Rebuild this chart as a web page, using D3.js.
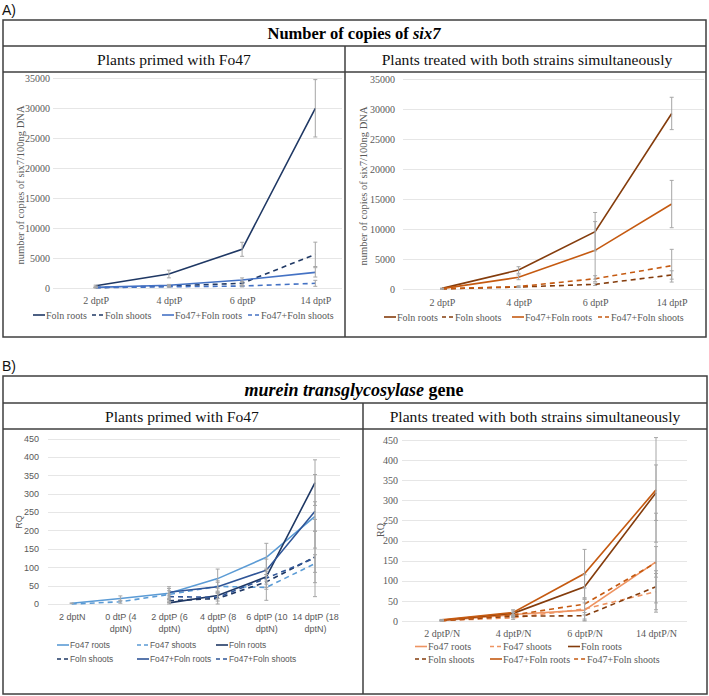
<!DOCTYPE html>
<html>
<head>
<meta charset="utf-8">
<script src="https://cdn.jsdelivr.net/npm/d3@7"></script>
<style>
  body { margin: 0; background: #fff; }
  svg { display: block; }
</style>
</head>
<body>
<div id="chart"></div>
<script>
// ============================================
// DATA
// ============================================

// A) number of copies of six7 (per 100 ng DNA)
const sixCategories = ["2 dptP", "4 dptP", "6 dptP", "14 dptP"];
const sixTicks = [0, 5000, 10000, 15000, 20000, 25000, 30000, 35000];

const primedFolnRoots = [380, 2330, 6450, 29950];
const primedFolnRootsErr = [100, 640, 1170, 4780];
const primedFolnShoots = [80, 330, 780, 5610];
const primedFolnShootsErr = [30, 120, 300, 2030];
const primedMixRoots = [100, 450, 1330, 2610];
const primedMixRootsErr = [40, 150, 350, 780];
const primedMixShoots = [50, 200, 330, 780];
const primedMixShootsErr = [20, 80, 150, 500];

const simulFolnRoots = [100, 3170, 9570, 29300];
const simulFolnRootsErr = [50, 550, 3200, 2700];
const simulFolnShoots = [20, 330, 780, 2340];
const simulFolnShootsErr = [10, 100, 200, 700];
const simulMixRoots = [60, 1950, 6450, 14180];
const simulMixRootsErr = [30, 400, 4800, 3950];
const simulMixShoots = [30, 400, 1720, 3890];
const simulMixShootsErr = [10, 150, 500, 2730];

// B) murein transglycosylase gene (RQ)
const rqTicks = [0, 50, 100, 150, 200, 250, 300, 350, 400, 450];
const mureinPrimedCategories = [
  "2 dptN", "0 dtP (4\ndptN)", "2 dptP (6\ndptN)",
  "4 dptP (8\ndptN)", "6 dptP (10\ndptN)", "14 dptP (18\ndptN)"
];
const mPrimedFo47Roots = [2, 15, 29, 69, 127, 238];
const mPrimedFo47RootsErr = [1, 7, 18, 26, 38, 40];
const mPrimedFo47Shoots = [0, 6, 26, 48, 45, 110];
const mPrimedFo47ShootsErr = [0, 4, 10, 15, 35, 24];
const mPrimedFolnRoots = [null, null, 3, 23, 74, 330];
const mPrimedFolnRootsErr = [0, 0, 3, 8, 20, 62];
const mPrimedFolnShoots = [null, null, 9, 15, 60, 128];
const mPrimedFolnShootsErr = [0, 0, 5, 15, 20, 70];
const mPrimedMixRoots = [null, null, 32, 47, 92, 252];
const mPrimedMixRootsErr = [0, 0, 10, 12, 30, 100];
const mPrimedMixShoots = [null, null, 20, 18, 70, 125];
const mPrimedMixShootsErr = [0, 0, 8, 10, 25, 105];

const mureinSimulCategories = ["2 dptP/N", "4 dptP/N", "6 dptP/N", "14 dptP/N"];
const mSimulFo47Roots = [1, 16, 27, 147];
const mSimulFo47RootsErr = [1, 5, 27, 38];
const mSimulFo47Shoots = [1, 8, 30, 73];
const mSimulFo47ShootsErr = [1, 4, 15, 45];
const mSimulFolnRoots = [2, 19, 85, 319];
const mSimulFolnRootsErr = [1, 6, 30, 69];
const mSimulFolnShoots = [1, 12, 13, 85];
const mSimulFolnShootsErr = [1, 4, 8, 40];
const mSimulMixRoots = [3, 21, 118, 326];
const mSimulMixRootsErr = [1, 7, 60, 130];
const mSimulMixShoots = [1, 15, 42, 145];
const mSimulMixShootsErr = [1, 6, 40, 123];

// ============================================
// STYLE
// ============================================

const SERIF = "'Liberation Serif', 'Times New Roman', serif";
const SANS = "'Liberation Sans', Arial, sans-serif";
const TEXT_GREY = "#595959";
const GRID = "#E6E6E6";
const ERR = "#A6A6A6";
const BORDER = "#3f3f3f";
const DASH = "5,4";

const COLORS = {
  navy: "#1F3864",
  blue: "#4472C4",
  lightBlue: "#5B9BD5",
  midBlue: "#2F5597",
  brown: "#843C0C",
  orange: "#C55A11",
  lightOrange: "#EE9462",
};

// ============================================
// PANELS
// ============================================

const panels = [
  {
    categories: sixCategories, ticks: sixTicks,
    xRange: [95.7, 315.3], yRange: [288, 78], gridX: [53, 342],
    yLabelX: 50, xLabelY: 300, font: SERIF, tickSize: 10, legendSize: 10,
    yTitle: "number of copies of six7/100ng DNA", yTitleX: 20.5, yTitleY: 185, yTitleSize: 10.5,
    series: [
      { name: "Foln roots", values: primedFolnRoots, err: primedFolnRootsErr, color: COLORS.navy },
      { name: "Foln shoots", values: primedFolnShoots, err: primedFolnShootsErr, color: COLORS.navy, dash: true },
      { name: "Fo47+Foln roots", values: primedMixRoots, err: primedMixRootsErr, color: COLORS.blue },
      { name: "Fo47+Foln shoots", values: primedMixShoots, err: primedMixShootsErr, color: COLORS.blue, dash: true },
    ],
    legendRows: [[0, 1, 2, 3]], legendCols: [33, 92, 162, 248], legendY: [315],
  },
  {
    categories: sixCategories, ticks: sixTicks,
    xRange: [442, 671.7], yRange: [289, 79.3], gridX: [403, 704],
    yLabelX: 395, xLabelY: 302, font: SERIF, tickSize: 10, legendSize: 10,
    yTitle: "number of copies of six7/100ng DNA", yTitleX: 363.5, yTitleY: 186, yTitleSize: 10.5,
    series: [
      { name: "Foln roots", values: simulFolnRoots, err: simulFolnRootsErr, color: COLORS.brown },
      { name: "Foln shoots", values: simulFolnShoots, err: simulFolnShootsErr, color: COLORS.brown, dash: true },
      { name: "Fo47+Foln roots", values: simulMixRoots, err: simulMixRootsErr, color: COLORS.orange },
      { name: "Fo47+Foln shoots", values: simulMixShoots, err: simulMixShootsErr, color: COLORS.orange, dash: true },
    ],
    legendRows: [[0, 1, 2, 3]], legendCols: [384, 442, 512, 598], legendY: [317],
  },
  {
    categories: mureinPrimedCategories, ticks: rqTicks,
    xRange: [71.7, 315], yRange: [604, 438.5], gridX: [48, 340],
    yLabelX: 39, xLabelY: 617, lineH: 12, font: SANS, tickSize: 9, legendSize: 8.4,
    yTitle: "RQ", yTitleX: 19, yTitleY: 522, yTitleSize: 9,
    series: [
      { name: "Fo47 roots", values: mPrimedFo47Roots, err: mPrimedFo47RootsErr, color: COLORS.lightBlue },
      { name: "Fo47 shoots", values: mPrimedFo47Shoots, err: mPrimedFo47ShootsErr, color: COLORS.lightBlue, dash: true },
      { name: "Foln roots", values: mPrimedFolnRoots, err: mPrimedFolnRootsErr, color: COLORS.navy },
      { name: "Foln shoots", values: mPrimedFolnShoots, err: mPrimedFolnShootsErr, color: COLORS.navy, dash: true },
      { name: "Fo47+Foln roots", values: mPrimedMixRoots, err: mPrimedMixRootsErr, color: COLORS.midBlue },
      { name: "Fo47+Foln shoots", values: mPrimedMixShoots, err: mPrimedMixShootsErr, color: COLORS.midBlue, dash: true },
    ],
    legendRows: [[0, 1, 2], [3, 4, 5]], legendCols: [57, 137, 216], legendY: [645, 659],
  },
  {
    categories: mureinSimulCategories, ticks: rqTicks,
    xRange: [441.7, 656], yRange: [621, 440], gridX: [402, 687],
    yLabelX: 398, xLabelY: 633, font: SERIF, tickSize: 10, legendSize: 10,
    yTitle: "RQ", yTitleX: 380, yTitleY: 530, yTitleSize: 10,
    series: [
      { name: "Fo47 roots", values: mSimulFo47Roots, err: mSimulFo47RootsErr, color: COLORS.lightOrange },
      { name: "Fo47 shoots", values: mSimulFo47Shoots, err: mSimulFo47ShootsErr, color: COLORS.lightOrange, dash: true },
      { name: "Foln roots", values: mSimulFolnRoots, err: mSimulFolnRootsErr, color: COLORS.brown },
      { name: "Foln shoots", values: mSimulFolnShoots, err: mSimulFolnShootsErr, color: COLORS.brown, dash: true },
      { name: "Fo47+Foln roots", values: mSimulMixRoots, err: mSimulMixRootsErr, color: COLORS.orange },
      { name: "Fo47+Foln shoots", values: mSimulMixShoots, err: mSimulMixShootsErr, color: COLORS.orange, dash: true },
    ],
    legendRows: [[0, 1, 2], [3, 4, 5]], legendCols: [415, 490, 568], legendY: [646.5, 659],
  },
];

// ============================================
// DRAWING
// ============================================

const svg = d3.select("#chart").append("svg")
  .attr("width", 709).attr("height", 696);

/**
 * Draw one line chart panel
 */
function drawPanel(p) {
  const g = svg.append("g");
  const x = d3.scalePoint().domain(p.categories).range(p.xRange);
  const yMax = p.ticks[p.ticks.length - 1];
  const y = d3.scaleLinear().domain([0, yMax]).range(p.yRange);

  // gridlines
  g.append("g").selectAll("line").data(p.ticks).join("line")
    .attr("x1", p.gridX[0]).attr("x2", p.gridX[1])
    .attr("y1", (d) => Math.round(y(d)) + 0.5).attr("y2", (d) => Math.round(y(d)) + 0.5)
    .attr("stroke", GRID).attr("stroke-width", 1);

  // y axis labels
  const yAxis = g.append("g")
    .attr("transform", `translate(${p.yLabelX},0)`)
    .call(d3.axisLeft(y).tickValues(p.ticks).tickSize(0).tickPadding(0).tickFormat(d3.format("d")))
    .attr("font-family", p.font).attr("font-size", p.tickSize);
  yAxis.select(".domain").remove();
  yAxis.selectAll("text")
    .style("font-family", p.font).style("font-size", p.tickSize + "px").attr("fill", TEXT_GREY);

  // x axis labels (may be two lines)
  const xAxis = g.append("g")
    .attr("transform", `translate(0,${p.xLabelY})`)
    .call(d3.axisBottom(x).tickSize(0).tickPadding(0))
    .attr("font-family", p.font).attr("font-size", p.tickSize);
  xAxis.select(".domain").remove();
  xAxis.selectAll("text")
    .style("font-family", p.font).style("font-size", p.tickSize + "px").attr("fill", TEXT_GREY)
    .attr("y", 0).attr("dy", null)
    .each(function (d) {
      const t = d3.select(this).text(null);
      d.split("\n").forEach((line, i) => {
        t.append("tspan").attr("x", 0)
          .attr("y", i * (p.lineH || 12))
          .attr("dy", "0.35em").text(line);
      });
    });

  // y title
  g.append("text")
    .attr("transform", `translate(${p.yTitleX},${p.yTitleY}) rotate(-90)`)
    .attr("text-anchor", "middle").attr("dy", "0.35em")
    .style("font-family", p.font).style("font-size", p.yTitleSize + "px")
    .attr("fill", TEXT_GREY).text(p.yTitle);

  // series lines
  const line = d3.line()
    .defined((d) => d.v != null)
    .x((d) => x(d.c)).y((d) => y(d.v));

  p.series.forEach((s) => {
    const pts = p.categories.map((c, i) => ({ c, v: s.values[i], e: s.err[i] }));
    g.append("path").datum(pts)
      .attr("d", line)
      .attr("fill", "none")
      .attr("stroke", s.color).attr("stroke-width", 1.6)
      .attr("stroke-dasharray", s.dash ? DASH : null);
  });

  // error bars
  p.series.forEach((s) => {
    const pts = p.categories.map((c, i) => ({ c, v: s.values[i], e: s.err[i] }))
      .filter((d) => d.v != null && d.e > 0);
    const eg = g.append("g").attr("stroke", ERR).attr("stroke-width", 1);
    eg.selectAll(".bar").data(pts).join("line")
      .attr("x1", (d) => x(d.c)).attr("x2", (d) => x(d.c))
      .attr("y1", (d) => y(Math.max(0, d.v - d.e))).attr("y2", (d) => y(d.v + d.e));
    eg.selectAll(".capTop").data(pts).join("line")
      .attr("x1", (d) => x(d.c) - 2).attr("x2", (d) => x(d.c) + 2)
      .attr("y1", (d) => y(d.v + d.e)).attr("y2", (d) => y(d.v + d.e));
    eg.selectAll(".capBot").data(pts).join("line")
      .attr("x1", (d) => x(d.c) - 2).attr("x2", (d) => x(d.c) + 2)
      .attr("y1", (d) => y(Math.max(0, d.v - d.e))).attr("y2", (d) => y(Math.max(0, d.v - d.e)));
  });

  // legend
  p.legendRows.forEach((row, r) => {
    let prevEnd = -Infinity;
    row.forEach((si, j) => {
      const s = p.series[si];
      const lx = Math.max(p.legendCols[j], prevEnd + 4);
      const ly = p.legendY[r];
      const item = g.append("g");
      item.append("line")
        .attr("x1", lx).attr("x2", lx + 12)
        .attr("y1", ly).attr("y2", ly)
        .attr("stroke", s.color).attr("stroke-width", 1.6)
        .attr("stroke-dasharray", s.dash ? "4,3" : null);
      const t = item.append("text")
        .attr("x", lx + 13).attr("y", ly).attr("dy", "0.35em")
        .style("font-family", p.font).style("font-size", p.legendSize + "px")
        .attr("fill", TEXT_GREY).text(s.name);
      prevEnd = lx + 13 + t.node().getComputedTextLength();
    });
  });
}

/**
 * Draw a section frame with title and subtitles
 */
function drawFrame(f) {
  const g = svg.append("g");
  g.append("text").attr("x", 2).attr("y", f.labelY)
    .style("font-family", SANS).style("font-size", "14px").attr("fill", "#111")
    .text(f.label);

  g.append("rect")
    .attr("x", 3).attr("y", f.top).attr("width", f.right - 3).attr("height", f.bottom - f.top)
    .attr("fill", "none").attr("stroke", BORDER).attr("stroke-width", 1.5);
  [f.line1, f.line2].forEach((ly) => {
    g.append("line").attr("x1", 3).attr("x2", f.right).attr("y1", ly).attr("y2", ly)
      .attr("stroke", BORDER).attr("stroke-width", 1.5);
  });
  g.append("line").attr("x1", f.divX).attr("x2", f.divX).attr("y1", f.line1).attr("y2", f.bottom)
    .attr("stroke", BORDER).attr("stroke-width", 1.5);

  const title = g.append("text")
    .attr("x", f.titleX).attr("y", f.titleY).attr("text-anchor", "middle")
    .style("font-family", SERIF).style("font-size", f.titleSize + "px").style("font-weight", "bold")
    .attr("fill", "#000");
  f.title.forEach((part) => {
    title.append("tspan").style("font-style", part.italic ? "italic" : "normal").text(part.text);
  });

  f.subtitles.forEach((st) => {
    g.append("text").attr("x", st.x).attr("y", f.subY).attr("text-anchor", "middle")
      .style("font-family", SERIF).style("font-size", "15.6px").attr("fill", "#111")
      .text(st.text);
  });
}

drawFrame({
  label: "A)", labelY: 15, top: 20, bottom: 337, right: 706, line1: 46, line2: 72, divX: 345,
  titleX: 354, titleY: 39, titleSize: 16.5,
  title: [{ text: "Number of copies of " }, { text: "six7", italic: true }],
  subY: 65,
  subtitles: [
    { x: 174, text: "Plants primed with Fo47" },
    { x: 527, text: "Plants treated with both strains simultaneously" },
  ],
});

drawFrame({
  label: "B)", labelY: 371, top: 376, bottom: 694, right: 707, line1: 403, line2: 429, divX: 363,
  titleX: 354, titleY: 396, titleSize: 18,
  title: [{ text: "murein transglycosylase", italic: true }, { text: " gene" }],
  subY: 422,
  subtitles: [
    { x: 182, text: "Plants primed with Fo47" },
    { x: 535, text: "Plants treated with both strains simultaneously" },
  ],
});

panels.forEach(drawPanel);
</script>
</body>
</html>
